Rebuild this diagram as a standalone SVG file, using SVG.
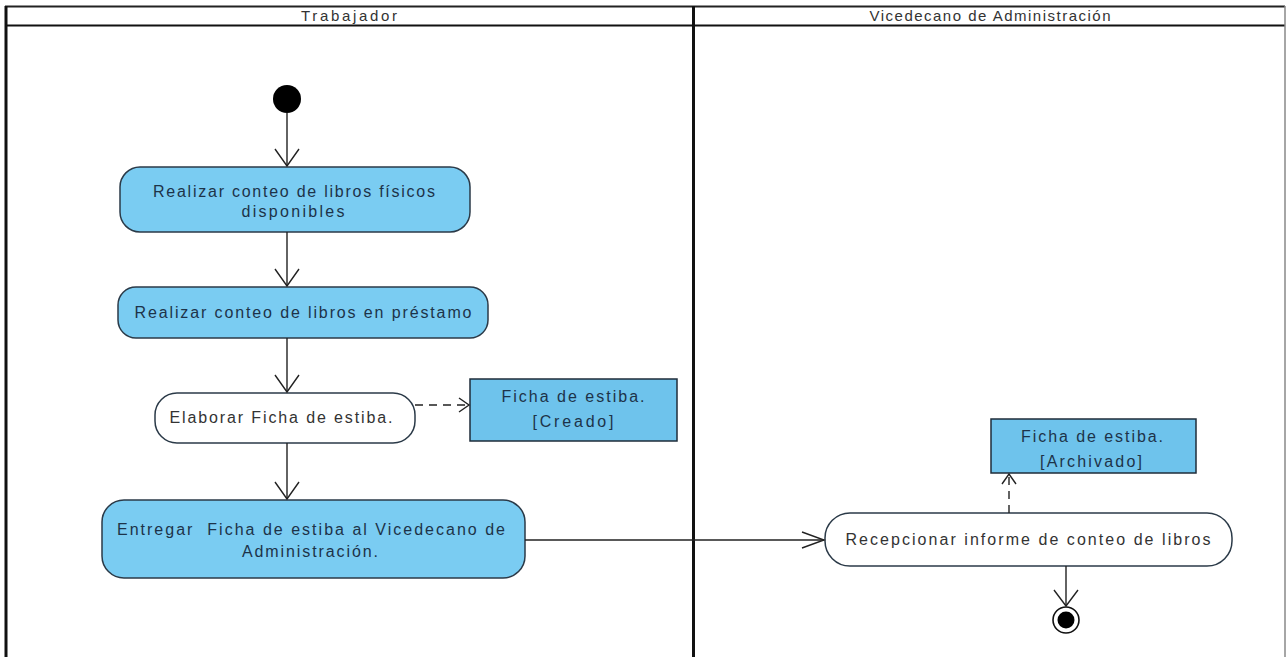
<svg xmlns="http://www.w3.org/2000/svg" width="1287" height="657" viewBox="0 0 1287 657">
  <style>
    .head { font-family: "Liberation Sans", Arial, sans-serif; font-size: 15px; fill: #333; text-anchor: middle; }
    .act { fill: #7accf2; stroke: #2b3a48; stroke-width: 1.5; }
    .act-w { fill: #ffffff; stroke: #2b3a48; stroke-width: 1.5; }
    .obj { fill: #6ec3ec; stroke: #1f2d3a; stroke-width: 1.5; }
    .lbl { font-family: "Liberation Sans", Arial, sans-serif; font-size: 16px; fill: #1d3349; text-anchor: middle; white-space: pre; }
    .lbl-w { font-family: "Liberation Sans", Arial, sans-serif; font-size: 16px; fill: #333; text-anchor: middle; }
    .flow { fill: none; stroke: #222; stroke-width: 1.4; }
    .dash { fill: none; stroke: #222; stroke-width: 1.4; stroke-dasharray: 8 6; }
    .head-v { fill: none; stroke: #222; stroke-width: 1.4; }
  </style>

  <rect width="1287" height="657" fill="#ffffff"/>

  <!-- swimlanes -->
  <g id="lanes">
    <line x1="5" y1="6.5" x2="1285" y2="6.5" stroke="#222" stroke-width="2"/>
    <line x1="5" y1="25.5" x2="1285" y2="25.5" stroke="#111" stroke-width="2.2"/>
    <line x1="6" y1="6" x2="6" y2="657" stroke="#111" stroke-width="3"/>
    <line x1="693.5" y1="6" x2="693.5" y2="657" stroke="#111" stroke-width="3"/>
    <line x1="1285" y1="6" x2="1285" y2="657" stroke="#888" stroke-width="1.5"/>
    <text class="head" x="349" y="21" textLength="96" lengthAdjust="spacing">Trabajador</text>
    <text class="head" x="990" y="21" textLength="241" lengthAdjust="spacing">Vicedecano de Administración</text>
  </g>

  <!-- start node -->
  <g id="start">
    <circle cx="287" cy="99" r="14" fill="#000"/>
  </g>

  <g id="act-fisicos">
    <rect class="act" x="120" y="167" width="350" height="65" rx="20"/>
    <text class="lbl" x="294" y="197" textLength="282" lengthAdjust="spacing">Realizar conteo de libros físicos</text>
    <text class="lbl" x="293" y="217" textLength="103" lengthAdjust="spacing">disponibles</text>
  </g>

  <g id="act-prestamo">
    <rect class="act" x="118" y="287" width="370" height="51" rx="18"/>
    <text class="lbl" x="303" y="318" textLength="337" lengthAdjust="spacing">Realizar conteo de libros en préstamo</text>
  </g>

  <g id="act-elaborar">
    <rect class="act-w" x="155" y="393" width="260" height="50" rx="22"/>
    <text class="lbl-w" x="281" y="423" textLength="223" lengthAdjust="spacing">Elaborar Ficha de estiba.</text>
  </g>

  <g id="obj-creado">
    <rect class="obj" x="470" y="379" width="207" height="62"/>
    <text class="lbl" x="573" y="402" textLength="143" lengthAdjust="spacing">Ficha de estiba.</text>
    <text class="lbl" x="573" y="427" textLength="81" lengthAdjust="spacing">[Creado]</text>
  </g>

  <g id="act-entregar">
    <rect class="act" x="102" y="500" width="423" height="78" rx="22"/>
    <text class="lbl" x="311" y="535" textLength="388" lengthAdjust="spacing">Entregar  Ficha de estiba al Vicedecano de</text>
    <text class="lbl" x="310" y="557" textLength="136" lengthAdjust="spacing">Administración.</text>
  </g>

  <g id="act-recepcionar">
    <rect class="act-w" x="825" y="513" width="407" height="53" rx="25"/>
    <text class="lbl-w" x="1028" y="545" textLength="365" lengthAdjust="spacing">Recepcionar informe de conteo de libros</text>
  </g>

  <g id="obj-archivado">
    <rect class="obj" x="991" y="419" width="205" height="54"/>
    <text class="lbl" x="1092" y="442" textLength="142" lengthAdjust="spacing">Ficha de estiba.</text>
    <text class="lbl" x="1091" y="467" textLength="102" lengthAdjust="spacing">[Archivado]</text>
  </g>

  <!-- final node -->
  <g id="end">
    <circle cx="1066" cy="620" r="13" fill="#fff" stroke="#111" stroke-width="1.6"/>
    <circle cx="1066" cy="620" r="8.5" fill="#000"/>
  </g>

  <!-- control and object flows -->
  <g id="connectors">
    <line class="flow" x1="287" y1="113" x2="287" y2="166"/>
    <path class="head-v" d="M275,149 L287,166 L299,149"/>

    <line class="flow" x1="287" y1="232" x2="287" y2="286"/>
    <path class="head-v" d="M275,269 L287,286 L299,269"/>

    <line class="flow" x1="287" y1="338" x2="287" y2="392"/>
    <path class="head-v" d="M275,375 L287,392 L299,375"/>

    <line class="flow" x1="287" y1="443" x2="287" y2="499"/>
    <path class="head-v" d="M275,482 L287,499 L299,482"/>

    <line class="dash" x1="415" y1="405" x2="468" y2="405"/>
    <path class="head-v" d="M459,398 L469,405 L459,412"/>

    <line class="flow" x1="525" y1="540" x2="824" y2="540"/>
    <path class="head-v" d="M802,532 L824,540 L802,548"/>

    <line class="dash" x1="1009" y1="513" x2="1009" y2="474"/>
    <path class="head-v" d="M1002,484 L1009,474 L1016,484"/>

    <line class="flow" x1="1066" y1="566" x2="1066" y2="606"/>
    <path class="head-v" d="M1054,590 L1066,606 L1078,590"/>
  </g>
</svg>
